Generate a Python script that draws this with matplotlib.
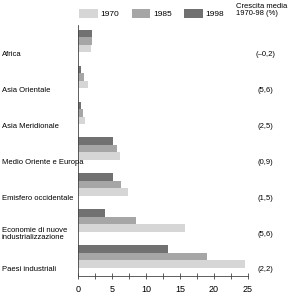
import matplotlib
matplotlib.use("Agg")
import matplotlib.pyplot as plt
import matplotlib.transforms as mtransforms
from matplotlib.patches import Patch
from matplotlib.ticker import MultipleLocator
import numpy as np

plt.rcParams['font.family'] = ['Liberation Sans', 'DejaVu Sans']
plt.rcParams['font.size'] = 5.5

# data, top to bottom
regions = ['Africa', 'Asia Orientale', 'Asia Meridionale', 'Medio Oriente e Europa',
           'Emisfero occidentale', 'Economie di nuove\nindustrializzazione', 'Paesi industriali']
v1970 = [1.9, 1.5, 1.0, 6.2, 7.3, 15.7, 24.6]
v1985 = [2.0, 0.9, 0.75, 5.8, 6.3, 8.5, 19.0]
v1998 = [2.0, 0.45, 0.5, 5.1, 5.1, 4.0, 13.3]
growth = ['(\u20130,2)', '(5,6)', '(2,5)', '(0,9)', '(1,5)', '(5,6)', '(2,2)']
years = ['1970', '1985', '1998']
colors = ['#d6d6d6', '#a6a6a6', '#717171']

fig = plt.figure(figsize=(2.88, 2.97), dpi=100)
ax = fig.add_axes([78 / 288, 1 - 276 / 297, 170 / 288, 251 / 297])

y = np.arange(len(regions))
h = 0.21
ax.barh(y - h, v1998, height=h, color=colors[2], linewidth=0)
ax.barh(y, v1985, height=h, color=colors[1], linewidth=0)
ax.barh(y + h, v1970, height=h, color=colors[0], linewidth=0)

ax.set_xlim(0, 25)
ax.set_ylim(6.55, -0.45)
ax.set_yticks([])
ax.xaxis.set_major_locator(MultipleLocator(5))
ax.xaxis.set_minor_locator(MultipleLocator(2.5))
ax.tick_params(axis='x', which='both', direction='inout', length=5, width=0.6,
               color='#444444', pad=4, labelsize=6.5)
for s in ['top', 'right']:
    ax.spines[s].set_visible(False)
for s in ['left', 'bottom']:
    ax.spines[s].set_linewidth(0.6)
    ax.spines[s].set_color('#444444')

# category labels on the left, growth figures on the right
tr_left = mtransforms.blended_transform_factory(fig.transFigure, ax.transData)
for yi, name, g in zip(y, regions, growth):
    ax.text(2 / 288, yi + 0.38, name, transform=tr_left, ha='left', va='center',
            linespacing=1.0, clip_on=False)
    ax.text(265 / 288, yi + 0.38, g, transform=tr_left, ha='center', va='center',
            clip_on=False)

handles = [Patch(facecolor=c, edgecolor='none') for c in colors]
fig.legend(handles, years, loc='upper left', bbox_to_anchor=(75 / 288, 1 - 5 / 297),
           ncol=3, frameon=False, borderpad=0, handlelength=2.2, handleheight=1.2,
           handletextpad=0.35, columnspacing=1.5, fontsize=6)
fig.text(236 / 288, 1 - 3 / 297, 'Crescita media\n1970-98 (%)', ha='left', va='top',
         linespacing=1.0)

fig.savefig('out.png', dpi=100)
